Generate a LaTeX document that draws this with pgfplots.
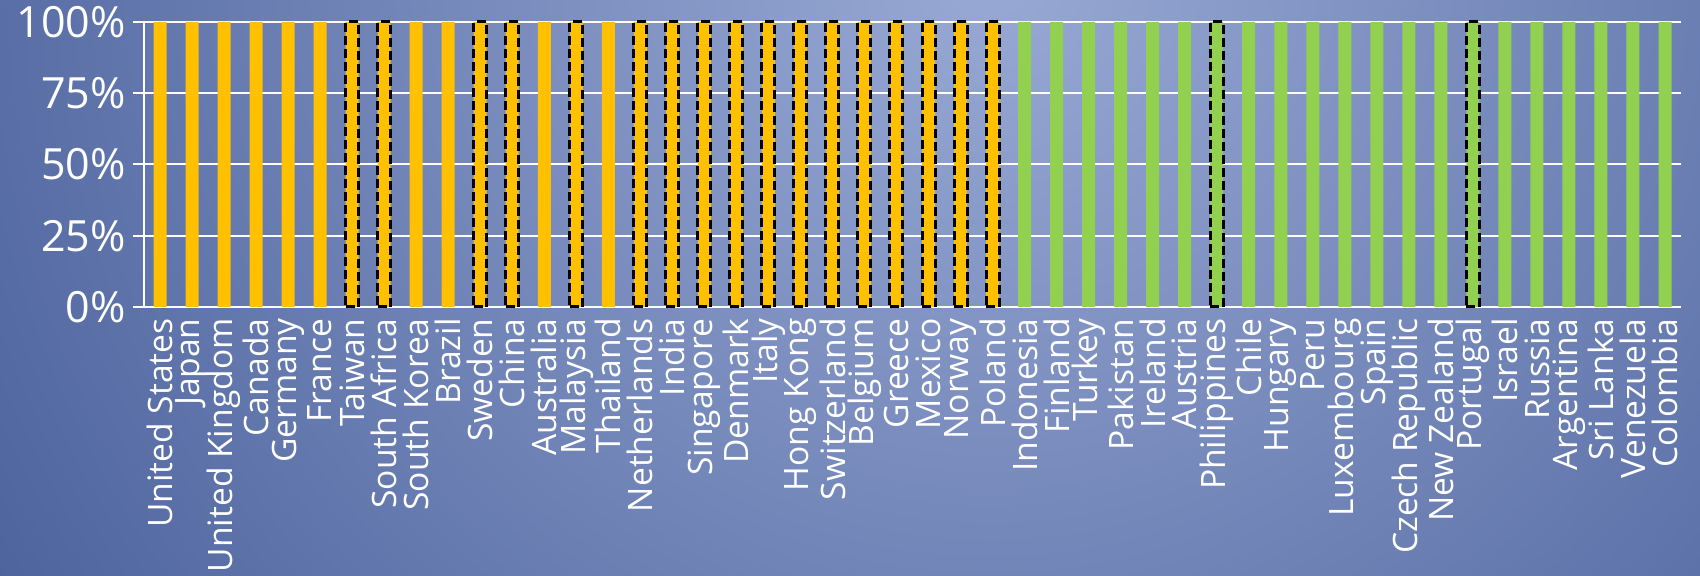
\documentclass[border=0pt]{standalone}
\usepackage{pgfplots}
\pgfplotsset{compat=1.18}
\usepackage{fontspec}
\setmainfont{Open Sans}
\definecolor{bgL}{HTML}{98A9D4}
\definecolor{bgD}{HTML}{334B8A}
\definecolor{barO}{HTML}{FFC000}
\definecolor{barG}{HTML}{92D050}
\newcommand{\lbl}{\fontsize{16.8}{20}\selectfont}
\newcommand{\tlbl}{\fontsize{21.5}{24}\selectfont}
\begin{document}
\begin{tikzpicture}
\useasboundingbox (0,0) rectangle (850pt,288pt);
\begin{scope}
\clip (0,0) rectangle (850pt,288pt);
\shade[inner color=bgL, outer color=bgD] (495pt,300pt) circle (790pt);
\end{scope}
\begin{axis}[
  at={(72pt,134.5pt)}, anchor=south west,
  scale only axis, width=768.5pt, height=142.5pt,
  xmin=-0.5, xmax=47.5, ymin=0, ymax=100,
  clip=false,
  xtick={0,...,47},
  xticklabels={United States,Japan,United Kingdom,Canada,Germany,France,Taiwan,South Africa,South Korea,Brazil,Sweden,China,Australia,Malaysia,Thailand,Netherlands,India,Singapore,Denmark,Italy,Hong Kong,Switzerland,Belgium,Greece,Mexico,Norway,Poland,Indonesia,Finland,Turkey,Pakistan,Ireland,Austria,Philippines,Chile,Hungary,Peru,Luxembourg,Spain,Czech Republic,New Zealand,Portugal,Israel,Russia,Argentina,Sri Lanka,Venezuela,Colombia},
  x tick label style={rotate=90, anchor=east, font=\lbl, text=white, inner sep=0pt},
  ytick={0,25,50,75,100},
  yticklabels={0\%,25\%,50\%,75\%,100\%},
  y tick label style={font=\tlbl, text=white},
  ymajorgrids, grid style={white, line width=1pt},
  axis x line=bottom, axis y line=left,
  axis line style={white, line width=1pt, -},
  xtick style={draw=none},
  ytick style={white, line width=1pt},
  tick align=outside,
  major tick length=5.5pt,
  ybar, bar width=6.5pt,
]
\addplot[fill=barO, draw=none, bar shift=0pt] coordinates {(0,100) (1,100) (2,100) (3,100) (4,100) (5,100) (8,100) (9,100) (12,100) (14,100)};
\addplot[fill=barO, draw=black, line width=1.5pt, dash pattern=on 4.5pt off 2pt, bar shift=0pt] coordinates {(6,100) (7,100) (10,100) (11,100) (13,100) (15,100) (16,100) (17,100) (18,100) (19,100) (20,100) (21,100) (22,100) (23,100) (24,100) (25,100) (26,100)};
\addplot[fill=barG, draw=none, bar shift=0pt] coordinates {(27,100) (28,100) (29,100) (30,100) (31,100) (32,100) (34,100) (35,100) (36,100) (37,100) (38,100) (39,100) (40,100) (42,100) (43,100) (44,100) (45,100) (46,100) (47,100)};
\addplot[fill=barG, draw=black, line width=1.5pt, dash pattern=on 4.5pt off 2pt, bar shift=0pt] coordinates {(33,100) (41,100)};
\end{axis}
\end{tikzpicture}
\end{document}
